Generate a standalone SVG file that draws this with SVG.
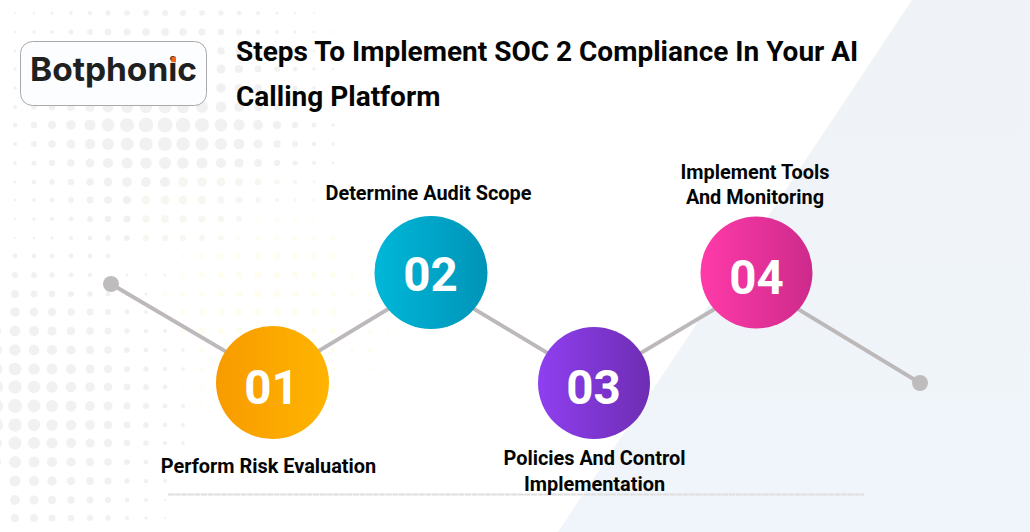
<svg xmlns="http://www.w3.org/2000/svg" width="1030" height="532" viewBox="0 0 1030 532">
<style>
.t{font-family:Roboto,"Liberation Sans",sans-serif;font-weight:700;fill:#050505}
.h{font-size:28px}
.l{font-size:19.9px;text-anchor:middle}
.n{font-family:Roboto,"Liberation Sans",sans-serif;font-weight:700;font-size:47.5px;fill:#fff;text-anchor:middle}
.g{fill:#f1f1f1}
.p{fill:#f7f7f2}
.y{fill:#fffdf0}
.c{stroke:#bdb9ba;stroke-width:3.8;fill:none}
</style>
<defs>
<linearGradient id="bg" x1="0" y1="0" x2="0" y2="1"><stop offset="0" stop-color="#eff3f7"/><stop offset="1" stop-color="#f0f5fb"/></linearGradient>
<linearGradient id="a1"><stop offset="0" stop-color="#f89b00"/><stop offset="1" stop-color="#ffb400"/></linearGradient>
<linearGradient id="a2"><stop offset="0" stop-color="#00b7d8"/><stop offset="1" stop-color="#0094b8"/></linearGradient>
<linearGradient id="a3"><stop offset="0" stop-color="#8f3ff0"/><stop offset="1" stop-color="#6e2db3"/></linearGradient>
<linearGradient id="a4"><stop offset="0" stop-color="#ff3aa9"/><stop offset="1" stop-color="#cd2a8b"/></linearGradient>
</defs>
<rect width="1030" height="532" fill="#fff"/>
<polygon points="912,0 1030,0 1030,532 558,532" fill="url(#bg)"/>
<g id="dots-yellow" class="y">
<g transform="translate(0,219)"><circle cx="258" r="1.8"/><circle cx="277" r="2"/><circle cx="295" r="2"/><circle cx="314" r="1.8"/><circle cx="333" r="1.6"/><circle cx="352" r="1.3"/></g>
<g transform="translate(0,238)"><circle cx="239" r="2.2"/><circle cx="258" r="2.6"/><circle cx="277" r="2.6"/><circle cx="295" r="2.5"/><circle cx="314" r="2.3"/><circle cx="333" r="2.1"/><circle cx="352" r="1.7"/><circle cx="370" r="1.4"/></g>
<g transform="translate(0,256)"><circle cx="146" r="1.3"/><circle cx="165" r="1.7"/><circle cx="183" r="2.1"/><circle cx="202" r="2.5"/><circle cx="221" r="2.8"/><circle cx="239" r="3"/><circle cx="258" r="3.2"/><circle cx="277" r="3.2"/><circle cx="295" r="3"/><circle cx="314" r="2.8"/><circle cx="333" r="2.5"/><circle cx="352" r="2.1"/><circle cx="370" r="1.9"/></g>
<g transform="translate(0,275)"><circle cx="146" r="1.4"/><circle cx="165" r="1.9"/><circle cx="183" r="2.4"/><circle cx="202" r="2.9"/><circle cx="221" r="3.1"/><circle cx="239" r="3.4"/><circle cx="258" r="3.6"/><circle cx="277" r="3.6"/><circle cx="295" r="3.4"/><circle cx="314" r="3.1"/><circle cx="333" r="2.9"/><circle cx="352" r="2.4"/><circle cx="370" r="2.1"/></g>
<g transform="translate(0,294)"><circle cx="165" r="2"/><circle cx="183" r="2.5"/><circle cx="202" r="3"/><circle cx="221" r="3.3"/><circle cx="239" r="3.6"/><circle cx="258" r="3.8"/><circle cx="277" r="3.8"/><circle cx="295" r="3.6"/><circle cx="314" r="3.3"/><circle cx="333" r="3"/><circle cx="352" r="2.5"/><circle cx="370" r="2.2"/></g>
<g transform="translate(0,312)"><circle cx="165" r="2"/><circle cx="183" r="2.5"/><circle cx="202" r="3"/><circle cx="221" r="3.3"/><circle cx="239" r="3.6"/><circle cx="258" r="3.8"/><circle cx="277" r="3.8"/><circle cx="295" r="3.6"/><circle cx="314" r="3.3"/><circle cx="333" r="3"/><circle cx="352" r="2.5"/><circle cx="370" r="2.2"/><circle cx="389" r="1.8"/></g>
<g transform="translate(0,331)"><circle cx="165" r="1.9"/><circle cx="183" r="2.4"/><circle cx="202" r="2.9"/><circle cx="221" r="3.1"/><circle cx="239" r="3.4"/><circle cx="314" r="3.1"/><circle cx="333" r="2.9"/><circle cx="352" r="2.4"/><circle cx="370" r="2.1"/><circle cx="389" r="1.7"/><circle cx="408" r="1.2"/></g>
<g transform="translate(0,350)"><circle cx="165" r="1.7"/><circle cx="183" r="2.1"/><circle cx="202" r="2.5"/><circle cx="333" r="2.5"/><circle cx="352" r="2.1"/><circle cx="370" r="1.9"/><circle cx="389" r="1.5"/><circle cx="408" r="1.1"/></g>
<g transform="translate(0,369)"><circle cx="183" r="1.9"/><circle cx="202" r="2.2"/><circle cx="333" r="2.2"/><circle cx="352" r="1.9"/><circle cx="370" r="1.7"/><circle cx="389" r="1.3"/><circle cx="408" r="1"/></g>
<g transform="translate(0,387)"><circle cx="183" r="1.6"/><circle cx="202" r="1.9"/><circle cx="333" r="2"/><circle cx="352" r="1.6"/><circle cx="370" r="1.4"/><circle cx="389" r="1.2"/></g>
<g transform="translate(0,406)"><circle cx="202" r="1.7"/><circle cx="333" r="1.7"/><circle cx="352" r="1.4"/><circle cx="370" r="1.2"/><circle cx="389" r="1"/></g>
<g transform="translate(0,425)"><circle cx="202" r="1.5"/><circle cx="221" r="1.5"/><circle cx="333" r="1.4"/><circle cx="352" r="1.2"/><circle cx="370" r="1"/></g>
<g transform="translate(0,443)"><circle cx="221" r="1.2"/><circle cx="239" r="1.3"/><circle cx="258" r="1.3"/><circle cx="277" r="1.3"/><circle cx="295" r="1.3"/><circle cx="314" r="1.2"/><circle cx="333" r="1"/></g>
<g transform="translate(0,462)"><circle cx="221" r="1"/><circle cx="239" r="1.1"/><circle cx="258" r="1.1"/><circle cx="277" r="1.1"/><circle cx="295" r="1.1"/><circle cx="314" r="1"/></g>
</g>
<g id="dots-grey" class="g">
<g transform="translate(0,13)"><circle cx="15" r="1"/><circle cx="34" r="1.3"/><circle cx="52" r="1.6"/><circle cx="71" r="1.9"/><circle cx="90" r="2.2"/><circle cx="108" r="2.6"/><circle cx="127" r="2.8"/><circle cx="146" r="2.9"/><circle cx="165" r="3"/><circle cx="183" r="2.9"/><circle cx="202" r="2.8"/><circle cx="221" r="2.6"/><circle cx="239" r="2.3"/><circle cx="258" r="2"/><circle cx="277" r="1.6"/><circle cx="295" r="1.3"/><circle cx="314" r="1"/><circle cx="333" r=".7"/></g>
<g transform="translate(0,32)"><circle cx="15" r="1.2"/><circle cx="34" r="1.7"/><circle cx="52" r="2.1"/><circle cx="71" r="2.5"/><circle cx="90" r="2.9"/><circle cx="108" r="3.3"/><circle cx="127" r="3.6"/><circle cx="146" r="3.8"/><circle cx="165" r="3.9"/><circle cx="183" r="3.8"/><circle cx="202" r="3.6"/><circle cx="221" r="3.3"/><circle cx="239" r="3"/><circle cx="258" r="2.5"/><circle cx="277" r="2.1"/><circle cx="295" r="1.7"/><circle cx="314" r="1.3"/><circle cx="333" r=".9"/></g>
<g transform="translate(0,51)"><circle cx="15" r="1.4"/><circle cx="221" r="3.8"/><circle cx="239" r="3.4"/><circle cx="258" r="2.9"/><circle cx="277" r="2.4"/><circle cx="295" r="1.9"/><circle cx="314" r="1.5"/><circle cx="333" r="1.1"/></g>
<g transform="translate(0,69)"><circle cx="15" r="1.7"/><circle cx="221" r="4.5"/><circle cx="239" r="4"/><circle cx="258" r="3.4"/><circle cx="277" r="2.8"/><circle cx="295" r="2.2"/><circle cx="314" r="1.8"/><circle cx="333" r="1.3"/></g>
<g transform="translate(0,88)"><circle cx="15" r="1.8"/><circle cx="221" r="4.8"/><circle cx="239" r="4.3"/><circle cx="258" r="3.7"/><circle cx="277" r="3"/><circle cx="295" r="2.4"/><circle cx="314" r="1.9"/><circle cx="333" r="1.4"/></g>
<g transform="translate(0,107)"><circle cx="15" r="2"/><circle cx="34" r="2.7"/><circle cx="52" r="3.4"/><circle cx="71" r="4.1"/><circle cx="90" r="4.8"/><circle cx="108" r="5.4"/><circle cx="127" r="6"/><circle cx="146" r="6.2"/><circle cx="165" r="6.4"/><circle cx="183" r="6.2"/><circle cx="202" r="6"/><circle cx="221" r="5.4"/><circle cx="239" r="4.8"/><circle cx="258" r="4.2"/><circle cx="277" r="3.4"/><circle cx="295" r="2.7"/><circle cx="314" r="2.1"/><circle cx="333" r="1.5"/></g>
<g transform="translate(0,125)"><circle cx="15" r="2.4"/><circle cx="34" r="3.2"/><circle cx="52" r="4"/><circle cx="71" r="4.8"/><circle cx="90" r="5.6"/><circle cx="108" r="6.4"/><circle cx="127" r="7"/><circle cx="146" r="7.3"/><circle cx="165" r="7.5"/><circle cx="183" r="7.3"/><circle cx="202" r="7"/><circle cx="221" r="6.4"/><circle cx="239" r="5.7"/><circle cx="258" r="4.9"/><circle cx="277" r="4"/><circle cx="295" r="3.2"/><circle cx="314" r="2.5"/><circle cx="333" r="1.8"/></g>
<g transform="translate(0,144)"><circle cx="15" r="2.2"/><circle cx="34" r="3"/><circle cx="52" r="3.7"/><circle cx="71" r="4.5"/><circle cx="90" r="5.2"/><circle cx="108" r="6"/><circle cx="127" r="6.5"/><circle cx="146" r="6.8"/><circle cx="165" r="7"/><circle cx="183" r="6.8"/><circle cx="202" r="6.5"/><circle cx="221" r="6"/><circle cx="239" r="5.3"/><circle cx="258" r="4.6"/><circle cx="277" r="3.7"/><circle cx="295" r="3"/><circle cx="314" r="2.3"/><circle cx="333" r="1.7"/></g>
<g transform="translate(0,163)"><circle cx="15" r="1.9"/><circle cx="34" r="2.6"/><circle cx="52" r="3.2"/><circle cx="71" r="3.8"/><circle cx="90" r="4.5"/><circle cx="108" r="5.1"/><circle cx="127" r="5.6"/><circle cx="146" r="5.8"/><circle cx="165" r="6"/><circle cx="183" r="5.8"/><circle cx="202" r="5.6"/><circle cx="221" r="5.1"/><circle cx="239" r="4.6"/><circle cx="258" r="3.9"/><circle cx="277" r="3.2"/><circle cx="295" r="2.6"/><circle cx="314" r="2"/><circle cx="333" r="1.4"/></g>
<g transform="translate(0,182)"><circle cx="15" r="1.6"/><circle cx="34" r="2.2"/><circle cx="52" r="2.7"/><circle cx="71" r="3.3"/><circle cx="90" r="3.8"/><circle cx="108" r="4.4"/><circle cx="127" r="4.8"/><circle cx="146" r="5"/><circle cx="165" r="5.1"/></g>
<g transform="translate(0,200)"><circle cx="15" r="1.4"/><circle cx="34" r="1.9"/><circle cx="52" r="2.4"/><circle cx="71" r="2.9"/><circle cx="90" r="3.4"/><circle cx="108" r="3.8"/><circle cx="127" r="4.2"/></g>
<g transform="translate(0,219)"><circle cx="15" r="1.2"/><circle cx="34" r="1.7"/><circle cx="52" r="2.1"/><circle cx="71" r="2.5"/><circle cx="90" r="2.9"/><circle cx="108" r="3.3"/><circle cx="127" r="3.6"/></g>
<g transform="translate(0,238)"><circle cx="15" r="1"/><circle cx="34" r="1.3"/><circle cx="52" r="1.7"/><circle cx="71" r="2"/><circle cx="90" r="2.4"/><circle cx="108" r="2.7"/><circle cx="127" r="2.9"/></g>
<g transform="translate(0,256)"><circle cx="15" r="2.4"/><circle cx="34" r="2.4"/><circle cx="52" r="2.4"/><circle cx="71" r="2.4"/><circle cx="90" r="2.5"/><circle cx="108" r="2.4"/></g>
<g transform="translate(0,275)"><circle cx="15" r="3.1"/><circle cx="34" r="2.9"/><circle cx="52" r="2.7"/><circle cx="71" r="2.5"/><circle cx="90" r="2.2"/><circle cx="127" r="1.5"/><circle cx="146" r="1.3"/><circle cx="165" r="1.1"/></g>
<g transform="translate(0,294)"><circle cx="15" r="3.9"/><circle cx="34" r="3.6"/><circle cx="52" r="3.3"/><circle cx="71" r="3"/><circle cx="90" r="2.7"/><circle cx="108" r="2.4"/><circle cx="127" r="1.9"/><circle cx="146" r="1.6"/></g>
<g transform="translate(0,312)"><circle cx="15" r="4.8"/><circle cx="34" r="4.4"/><circle cx="52" r="4.1"/><circle cx="71" r="3.7"/><circle cx="90" r="3.4"/><circle cx="108" r="3"/><circle cx="127" r="2.4"/><circle cx="146" r="2"/></g>
<g transform="translate(0,331)"><circle cx="-4" r="5"/><circle cx="15" r="5.4"/><circle cx="34" r="5"/><circle cx="52" r="4.6"/><circle cx="71" r="4.2"/><circle cx="90" r="3.8"/><circle cx="108" r="3.5"/><circle cx="127" r="2.7"/><circle cx="146" r="2.3"/><circle cx="165" r="1.9"/></g>
<g transform="translate(0,350)"><circle cx="-4" r="6"/><circle cx="15" r="5.8"/><circle cx="34" r="5.4"/><circle cx="52" r="5"/><circle cx="71" r="4.6"/><circle cx="90" r="4.1"/><circle cx="108" r="3.7"/><circle cx="127" r="2.9"/><circle cx="146" r="2.5"/><circle cx="165" r="2.1"/><circle cx="183" r="1.7"/></g>
<g transform="translate(0,369)"><circle cx="-4" r="6.5"/><circle cx="15" r="6.3"/><circle cx="34" r="5.8"/><circle cx="52" r="5.4"/><circle cx="71" r="5"/><circle cx="90" r="4.5"/><circle cx="108" r="4"/><circle cx="127" r="3.1"/><circle cx="146" r="2.7"/><circle cx="165" r="2.2"/><circle cx="183" r="1.8"/></g>
<g transform="translate(0,387)"><circle cx="-4" r="7"/><circle cx="15" r="6.7"/><circle cx="34" r="6.2"/><circle cx="52" r="5.8"/><circle cx="71" r="5.3"/><circle cx="90" r="4.8"/><circle cx="108" r="4.3"/><circle cx="127" r="3.4"/><circle cx="146" r="2.9"/><circle cx="165" r="2.4"/></g>
<g transform="translate(0,406)"><circle cx="-4" r="7"/><circle cx="15" r="7"/><circle cx="34" r="6.5"/><circle cx="52" r="6"/><circle cx="71" r="5.5"/><circle cx="90" r="5"/><circle cx="108" r="4.5"/><circle cx="127" r="3.5"/><circle cx="146" r="3"/><circle cx="165" r="2.5"/><circle cx="183" r="2"/></g>
<g transform="translate(0,425)"><circle cx="-4" r="7"/><circle cx="15" r="6.7"/><circle cx="34" r="6.2"/><circle cx="52" r="5.8"/><circle cx="71" r="5.3"/><circle cx="90" r="4.8"/><circle cx="108" r="4.3"/><circle cx="127" r="3.4"/><circle cx="146" r="2.9"/><circle cx="165" r="2.4"/><circle cx="183" r="1.9"/></g>
<g transform="translate(0,443)"><circle cx="-4" r="6"/><circle cx="15" r="6.5"/><circle cx="34" r="6"/><circle cx="52" r="5.6"/><circle cx="71" r="5.1"/><circle cx="90" r="4.6"/><circle cx="108" r="4.2"/><circle cx="127" r="3.3"/><circle cx="146" r="2.8"/><circle cx="165" r="2.3"/><circle cx="183" r="1.9"/></g>
<g transform="translate(0,462)"><circle cx="-4" r="5"/><circle cx="15" r="6"/><circle cx="34" r="5.5"/><circle cx="52" r="5.1"/><circle cx="71" r="4.7"/><circle cx="90" r="4.2"/><circle cx="108" r="3.8"/><circle cx="127" r="3"/><circle cx="146" r="2.5"/><circle cx="165" r="2.1"/></g>
<g transform="translate(0,481)"><circle cx="-4" r="4"/><circle cx="15" r="5.5"/><circle cx="34" r="5.1"/><circle cx="52" r="4.7"/><circle cx="71" r="4.3"/><circle cx="90" r="3.9"/><circle cx="108" r="3.5"/><circle cx="127" r="2.7"/><circle cx="146" r="2.3"/><circle cx="165" r="1.9"/></g>
<g transform="translate(0,500)"><circle cx="15" r="4.9"/><circle cx="34" r="4.5"/><circle cx="52" r="4.2"/><circle cx="71" r="3.8"/><circle cx="90" r="3.5"/><circle cx="108" r="3.1"/><circle cx="127" r="2.4"/><circle cx="146" r="2.1"/><circle cx="165" r="1.2"/></g>
<g transform="translate(0,518)"><circle cx="15" r="4.2"/><circle cx="34" r="3.9"/><circle cx="52" r="3.6"/><circle cx="71" r="3.3"/><circle cx="90" r="3"/><circle cx="108" r="2.7"/><circle cx="127" r="2.1"/><circle cx="146" r="1.8"/><circle cx="165" r="1"/></g>
</g>
<g id="dots-pale" class="p">
<g transform="translate(0,182)"><circle cx="183" r="5"/><circle cx="202" r="4.8"/><circle cx="221" r="4.4"/><circle cx="239" r="3.9"/><circle cx="258" r="3.3"/><circle cx="277" r="2.7"/><circle cx="295" r="2.2"/><circle cx="314" r="1.7"/><circle cx="333" r="1.2"/></g>
<g transform="translate(0,200)"><circle cx="146" r="4.4"/><circle cx="165" r="4.5"/><circle cx="183" r="4.4"/><circle cx="202" r="4.2"/><circle cx="221" r="3.8"/><circle cx="239" r="3.4"/><circle cx="258" r="2.9"/><circle cx="277" r="2.4"/><circle cx="295" r="1.9"/><circle cx="314" r="1.5"/><circle cx="333" r="1.1"/></g>
<g transform="translate(0,219)"><circle cx="146" r="3.8"/><circle cx="165" r="3.9"/><circle cx="183" r="3.8"/><circle cx="202" r="3.6"/><circle cx="221" r="3.3"/><circle cx="239" r="3"/></g>
<g transform="translate(0,238)"><circle cx="146" r="3.1"/><circle cx="165" r="3.2"/><circle cx="183" r="3.1"/><circle cx="202" r="2.9"/><circle cx="221" r="2.7"/></g>
</g>
<g id="connectors">
<path class="c" d="M111 284L272.500 379L431 283L594 381L756.500 284L920 383"/>
<circle cx="111" cy="284" r="8" fill="#bfbcbd"/>
<circle cx="920" cy="383" r="8" fill="#bfbcbd"/>
<line x1="168" y1="494.500" x2="864" y2="494.500" stroke="#dedede" stroke-width="2" stroke-dasharray="6 .6"/>
</g>
<g id="logo">
<rect x="20.500" y="41.500" width="186" height="64" rx="12" fill="#fbfdfe" stroke="#a9a9a9" stroke-width="1"/>
<text x="30" y="81" font-family="Inter,Roboto,sans-serif" font-weight="700" font-size="33" fill="#1f2020" textLength="167" lengthAdjust="spacingAndGlyphs">Botphonic</text>
<rect x="171.300" y="56.700" width="4.700" height="5.600" fill="#f0641e"/>
</g>
<g id="title">
<text class="t h" x="236" y="61">Steps To Implement SOC 2 Compliance In Your AI</text>
<text class="t h" x="236" y="106">Calling Platform</text>
</g>
<g id="step-01">
<circle cx="272.500" cy="382.500" r="56.500" fill="url(#a1)"/>
<text class="n" x="271.500" y="403.500">01</text>
<text class="t l" x="268.500" y="472.500">Perform Risk Evaluation</text>
</g>
<g id="step-02">
<circle cx="431" cy="272.500" r="56.500" fill="url(#a2)"/>
<text class="n" x="430.500" y="290.500">02</text>
<text class="t l" x="428.500" y="200">Determine Audit Scope</text>
</g>
<g id="step-03">
<circle cx="594" cy="383" r="56" fill="url(#a3)"/>
<text class="n" x="593.500" y="404">03</text>
<text class="t l" x="594.500" y="465">Policies And Control</text>
<text class="t l" x="594.500" y="491">Implementation</text>
</g>
<g id="step-04">
<circle cx="756.500" cy="272.500" r="56" fill="url(#a4)"/>
<text class="n" x="756.500" y="293.500">04</text>
<text class="t l" x="755" y="179">Implement Tools</text>
<text class="t l" x="755" y="204">And Monitoring</text>
</g>
</svg>
